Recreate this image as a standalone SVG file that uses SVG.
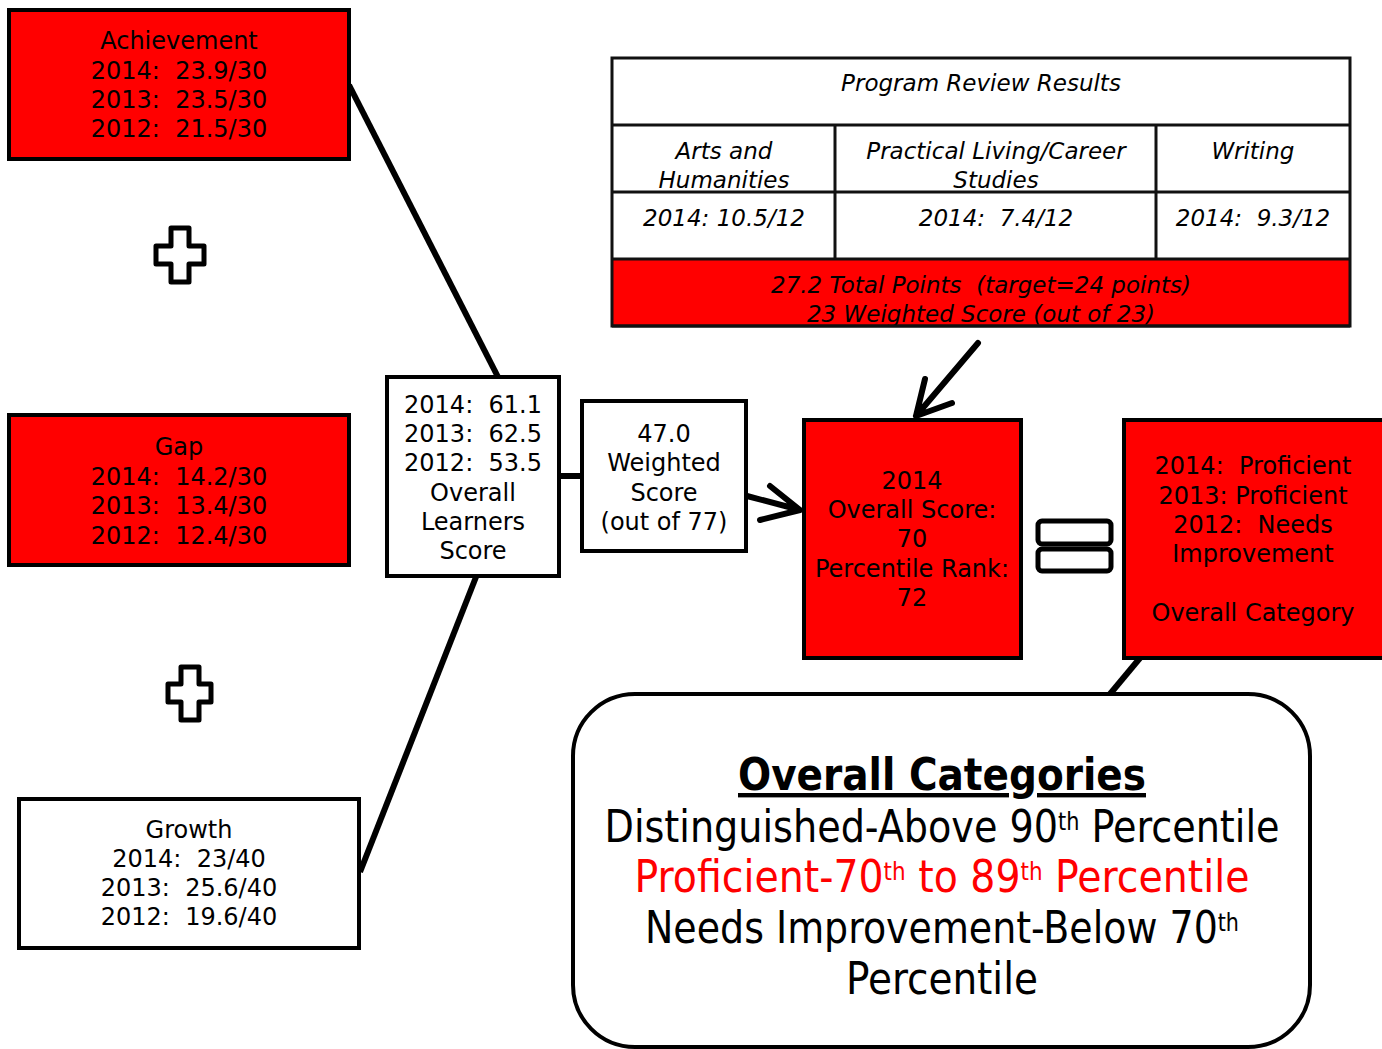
<svg xmlns="http://www.w3.org/2000/svg" width="1382" height="1049" viewBox="0 0 1382 1049">
<style>
.box{stroke:#000;stroke-width:4}
.red{fill:#ff0000}
.white{fill:#fff}
.t{font-family:"DejaVu Sans","Liberation Sans",sans-serif;font-size:24px;fill:#000;text-anchor:middle;white-space:pre}
.ti{font-family:"DejaVu Sans","Liberation Sans",sans-serif;font-size:23px;font-style:italic;fill:#000;text-anchor:middle;white-space:pre}
.big{font-family:"DejaVu Sans Condensed","DejaVu Sans",sans-serif;font-size:44px;fill:#000;text-anchor:middle}
.sup{font-size:24px}
.ln{stroke:#000;stroke-width:6;fill:none;stroke-linecap:round;stroke-linejoin:round}
.grid{stroke:#111;stroke-width:3;fill:none}
</style>
<rect width="1382" height="1049" fill="#fff"/>
<g id="connectors">
<line class="ln" x1="349" y1="85" x2="498" y2="377" style="stroke-linecap:butt"/>
<line class="ln" x1="476" y1="577" x2="360" y2="872" style="stroke-linecap:butt"/>
<line class="ln" x1="559" y1="476" x2="582" y2="476" style="stroke-linecap:butt"/>
<path class="ln" d="M747 496 L800 510 M770 486 L800 510 L760 520"/>
<path class="ln" d="M978 343 L916 416 M925 379 L916 416 L952 403"/>
<line class="ln" x1="1140" y1="658" x2="1110" y2="694" style="stroke-linecap:butt"/>
</g>
<g id="achievement">
<rect class="box red" x="9" y="10" width="340" height="149"/>
<text class="t" x="179" y="49">Achievement</text>
<text class="t" x="179" y="79">2014:  23.9/30</text>
<text class="t" x="179" y="108">2013:  23.5/30</text>
<text class="t" x="179" y="137">2012:  21.5/30</text>
</g>
<g id="plus1">
<path d="M171 228 H189 V246 H204 V264 H189 V282 H171 V264 H156 V246 H171 Z" fill="#fff" stroke="#000" stroke-width="5" stroke-linejoin="round"/>
</g>
<g id="gap">
<rect class="box red" x="9" y="415" width="340" height="150"/>
<text class="t" x="179" y="455">Gap</text>
<text class="t" x="179" y="485">2014:  14.2/30</text>
<text class="t" x="179" y="514">2013:  13.4/30</text>
<text class="t" x="179" y="544">2012:  12.4/30</text>
</g>
<g id="plus2">
<path d="M181 667 H199 V684 H211 V702 H199 V720 H181 V702 H168 V684 H181 Z" fill="#fff" stroke="#000" stroke-width="5" stroke-linejoin="round"/>
</g>
<g id="growth">
<rect class="box white" x="19" y="799" width="340" height="149"/>
<text class="t" x="189" y="838">Growth</text>
<text class="t" x="189" y="867">2014:  23/40</text>
<text class="t" x="189" y="896">2013:  25.6/40</text>
<text class="t" x="189" y="925">2012:  19.6/40</text>
</g>
<g id="learners">
<rect class="box white" x="387" y="377" width="172" height="199"/>
<text class="t" x="473" y="413">2014:  61.1</text>
<text class="t" x="473" y="442">2013:  62.5</text>
<text class="t" x="473" y="471">2012:  53.5</text>
<text class="t" x="473" y="501">Overall</text>
<text class="t" x="473" y="530">Learners</text>
<text class="t" x="473" y="559">Score</text>
</g>
<g id="weighted">
<rect class="box white" x="582" y="401" width="164" height="150"/>
<text class="t" x="664" y="442">47.0</text>
<text class="t" x="664" y="471">Weighted</text>
<text class="t" x="664" y="501">Score</text>
<text class="t" x="664" y="530">(out of 77)</text>
</g>
<g id="overall-score">
<rect class="box red" x="804" y="420" width="217" height="238"/>
<text class="t" x="912" y="489">2014</text>
<text class="t" x="912" y="518">Overall Score:</text>
<text class="t" x="912" y="547">70</text>
<text class="t" x="912" y="577">Percentile Rank:</text>
<text class="t" x="912" y="606">72</text>
</g>
<g id="equals">
<rect x="1038" y="521" width="73" height="23" rx="4" fill="#fff" stroke="#000" stroke-width="5"/>
<rect x="1038" y="549" width="73" height="22" rx="4" fill="#fff" stroke="#000" stroke-width="5"/>
</g>
<g id="category">
<rect class="box red" x="1124" y="420" width="262" height="238"/>
<text class="t" x="1253" y="474">2014:  Proficient</text>
<text class="t" x="1253" y="504">2013: Proficient</text>
<text class="t" x="1253" y="533">2012:  Needs</text>
<text class="t" x="1253" y="562">Improvement</text>
<text class="t" x="1253" y="621">Overall Category</text>
</g>
<g id="program-review">
<rect x="612" y="58" width="738" height="268" fill="#fff"/>
<rect x="612" y="259" width="738" height="67" class="red"/>
<rect class="grid" x="612" y="58" width="738" height="268"/>
<line class="grid" x1="612" y1="125" x2="1350" y2="125"/>
<line class="grid" x1="612" y1="192" x2="1350" y2="192"/>
<line class="grid" x1="612" y1="259" x2="1350" y2="259"/>
<line class="grid" x1="835" y1="125" x2="835" y2="259"/>
<line class="grid" x1="1156" y1="125" x2="1156" y2="259"/>
<text class="ti" x="981" y="91">Program Review Results</text>
<text class="ti" x="724" y="159">Arts and</text>
<text class="ti" x="724" y="188">Humanities</text>
<text class="ti" x="996" y="159">Practical Living/Career</text>
<text class="ti" x="996" y="188">Studies</text>
<text class="ti" x="1253" y="159">Writing</text>
<text class="ti" x="724" y="226">2014: 10.5/12</text>
<text class="ti" x="996" y="226">2014:  7.4/12</text>
<text class="ti" x="1253" y="226">2014:  9.3/12</text>
<text class="ti" x="981" y="293">27.2 Total Points  (target=24 points)</text>
<text class="ti" x="981" y="322">23 Weighted Score (out of 23)</text>
<line x1="612" y1="326" x2="1350" y2="326" stroke="#111" stroke-width="3"/>
</g>
<g id="categories">
<rect x="573" y="694" width="737" height="353" rx="62" fill="#fff" stroke="#000" stroke-width="4"/>
<text class="big" x="942" y="790" font-weight="bold" text-decoration="underline" textLength="408" lengthAdjust="spacingAndGlyphs">Overall Categories</text>
<text class="big" x="942" y="842" textLength="675" lengthAdjust="spacingAndGlyphs">Distinguished-Above 90<tspan class="sup" dy="-12">th</tspan><tspan dy="12"> Percentile</tspan></text>
<text class="big" x="942" y="892" fill="#ff0000" style="fill:#ff0000" textLength="615" lengthAdjust="spacingAndGlyphs">Proficient-70<tspan class="sup" dy="-12">th</tspan><tspan dy="12"> to 89</tspan><tspan class="sup" dy="-12">th</tspan><tspan dy="12"> Percentile</tspan></text>
<text class="big" x="942" y="943" textLength="594" lengthAdjust="spacingAndGlyphs">Needs Improvement-Below 70<tspan class="sup" dy="-12">th</tspan></text>
<text class="big" x="942" y="994" textLength="192" lengthAdjust="spacingAndGlyphs">Percentile</text>
</g>
</svg>
